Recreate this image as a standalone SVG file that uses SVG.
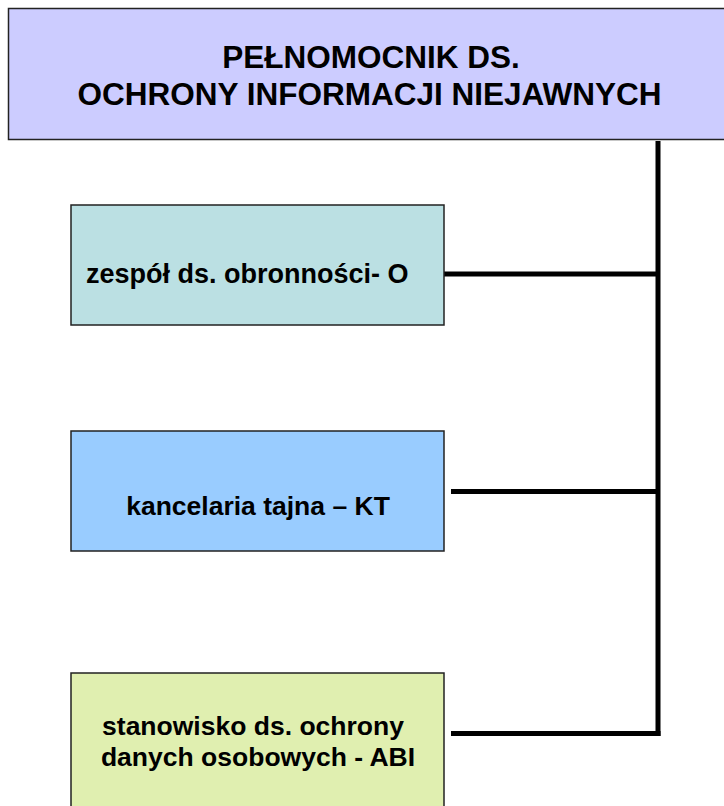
<svg xmlns="http://www.w3.org/2000/svg" width="724" height="806" viewBox="0 0 724 806">
<style>
.box{stroke:#222;stroke-width:1.5}
.t{font-family:"Liberation Sans",Arial,sans-serif;font-weight:bold;fill:#000}
.c{stroke:#000;stroke-width:5;fill:none;stroke-linecap:butt}
</style>
<rect x="0" y="0" width="724" height="806" fill="#fff"/>
<g id="connectors">
<line class="c" x1="658" y1="141" x2="658" y2="736"/>
<line class="c" x1="444" y1="274" x2="658" y2="274"/>
<line class="c" x1="451" y1="491.5" x2="658" y2="491.5"/>
<line class="c" x1="451" y1="733.5" x2="660.5" y2="733.5"/>
</g>
<g id="top">
<rect class="box" x="8.5" y="8.5" width="730" height="131" fill="#CCCCFF" stroke-width="2"/>
<text class="t" x="371" y="67.5" font-size="31.5" text-anchor="middle">PEŁNOMOCNIK DS.</text>
<text class="t" x="369.5" y="105" font-size="31.5" text-anchor="middle">OCHRONY INFORMACJI NIEJAWNYCH</text>
</g>
<g id="zespol">
<rect class="box" x="71" y="205" width="373" height="120" fill="#BBE0E3"/>
<text class="t" x="86" y="283" font-size="27">zespół ds. obronności- O</text>
</g>
<g id="kancelaria">
<rect class="box" x="71" y="431" width="373" height="120" fill="#99CCFF"/>
<text class="t" x="258" y="515" font-size="26.5" text-anchor="middle">kancelaria tajna – KT</text>
</g>
<g id="abi">
<rect class="box" x="71" y="673" width="373" height="140" fill="#E0EFB0"/>
<text class="t" x="253" y="735" font-size="26.5" text-anchor="middle">stanowisko ds. ochrony</text>
<text class="t" x="258" y="765.5" font-size="26.5" text-anchor="middle">danych osobowych - ABI</text>
</g>
</svg>
